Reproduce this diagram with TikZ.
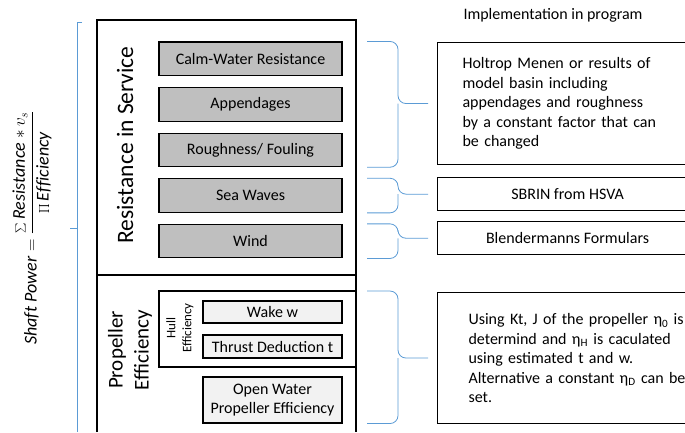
\documentclass[tikz,border=0pt]{standalone}
\usepackage{fontspec}
\setmainfont{Carlito}
\usetikzlibrary{positioning}

\definecolor{resgray}{RGB}{191,191,191}
\definecolor{effgray}{RGB}{242,242,242}
\definecolor{braceblue}{RGB}{91,155,213}

\begin{document}
\begin{tikzpicture}[x=1pt,y=-1pt]
        \tikzstyle{every path}=[line width=1.1pt]
        \useasboundingbox (0,0) rectangle (685,432);

        \edef\widthres{183pt}
        \edef\widtheff{139pt}
        \tikzstyle{res}=[draw,fill=resgray,minimum width=\widthres,minimum height=33.5pt,font=\fontsize{16}{19.5}\selectfont]
        \tikzstyle{eff}=[draw,fill=effgray,minimum width=\widtheff,minimum height=22pt,inner sep=1pt,font=\fontsize{16}{19.5}\selectfont]
        \tikzstyle{impl}=[draw,minimum width=260pt,minimum height=33pt,font=\fontsize{16}{19.5}\selectfont]
        \tikzstyle{title}=[rotate=90,align=center]
        \tikzstyle{brace}=[draw=braceblue,line width=0.8pt,rounded corners=8pt]

        %frames of the two groups
        \draw (97,432) |- (356,20) -- (356,432);
        \draw (97,275) -- (356,275);
        \draw (356,291) -| (159,367) -- (356,367);
        \coordinate (hulltop) at (159,291);
        \coordinate (hullbot) at (356,367);

        %resistance components
        \begin{scope}[node distance=11pt]
        \node [res] (calm) at (250.5,58.75) {Calm-Water Resistance};
        \node [res,below=of calm] (app) {Appendages};
        \node [res,below=of app] (rough) {Roughness/ Fouling};
        \node [res,below=of rough] (waves) {Sea Waves};
        \node [res,below=of waves] (wind) {Wind};
        \end{scope}

        %efficiency components
        \node [eff] (wake) at (272.5,312) {Wake w};
        \node [eff,minimum height=23pt] (thrust) at (272.5,346.5) {Thrust Deduction t};
        \node [eff,minimum height=46pt,align=center] (open) at (272.5,400) {Open Water\\Propeller Efficiency};

        %group titles
        \node [title,font=\fontsize{23.5}{26}\selectfont] (service) at (125,145) {Resistance in Service};
        \node [title,font=\fontsize{21}{26}\selectfont] (propeller) at (130,350) {Propeller\\Efficiency};
        \node [title,font=\fontsize{13}{16}\selectfont] (hull) at (180,328) {Hull\\Efficiency};

        %implementation in program
        \node [font=\fontsize{16}{19.5}\selectfont] (head) at (553,15) {Implementation in program};
        \node [impl,anchor=north west,minimum height=122pt,text width=230pt,inner xsep=25pt,align=left] (holtrop) at (437,42)
            {Holtrop Menen or results of\\model basin including\\appendages and roughness\\by a constant factor that can\\be changed};
        \node [impl,below=12pt of holtrop.south west,anchor=north west] (sbrin) {SBRIN from HSVA};
        \node [impl,below=10pt of sbrin.south west,anchor=north west] (blend) {Blendermanns Formulars};
        \node [impl,anchor=north west,minimum height=131pt,text width=230pt,inner xsep=31pt,align=left] (using) at (437,292)
            {Using Kt, J of the propeller η\textsubscript{0} is\\determind and η\textsubscript{H} is caculated\\using estimated t and w.\\Alternative a constant η\textsubscript{D} can be\\set.};

        %braces to the implementation
        \coordinate (bx) at (367,0);
        \coordinate (stem) at (398,0);
        \foreach \top/\bot/\goal in {calm/rough/holtrop, waves/waves/sbrin, wind/wind/blend} {
            \draw [brace] (bx |- \top.north) -| (stem |- \goal.west) -- ([xshift=-9pt]\goal.west);
            \draw [brace] (bx |- \bot.south) -| (stem |- \goal.west);
        };
        \draw [brace] (bx |- hulltop) -| (stem |- using.west) -- ([xshift=-9pt]using.west);
        \draw [brace] (bx |- open.south) -| (stem |- using.west);

        %shaft power
        \node [rotate=90,font=\fontsize{18}{22}\selectfont] (formula) at (32,228)
            {$\displaystyle \mathit{Shaft\ Power}=\frac{\sum \mathit{Resistance} * v_s}{\prod \mathit{Efficiency}}$};
        \coordinate (btop) at (82,22);
        \coordinate (bbot) at (77,432);
        \draw [brace,rounded corners=0pt] (btop) -| (bbot);
        \draw [brace] (77,228) -- (70,228);
\end{tikzpicture}
\end{document}
